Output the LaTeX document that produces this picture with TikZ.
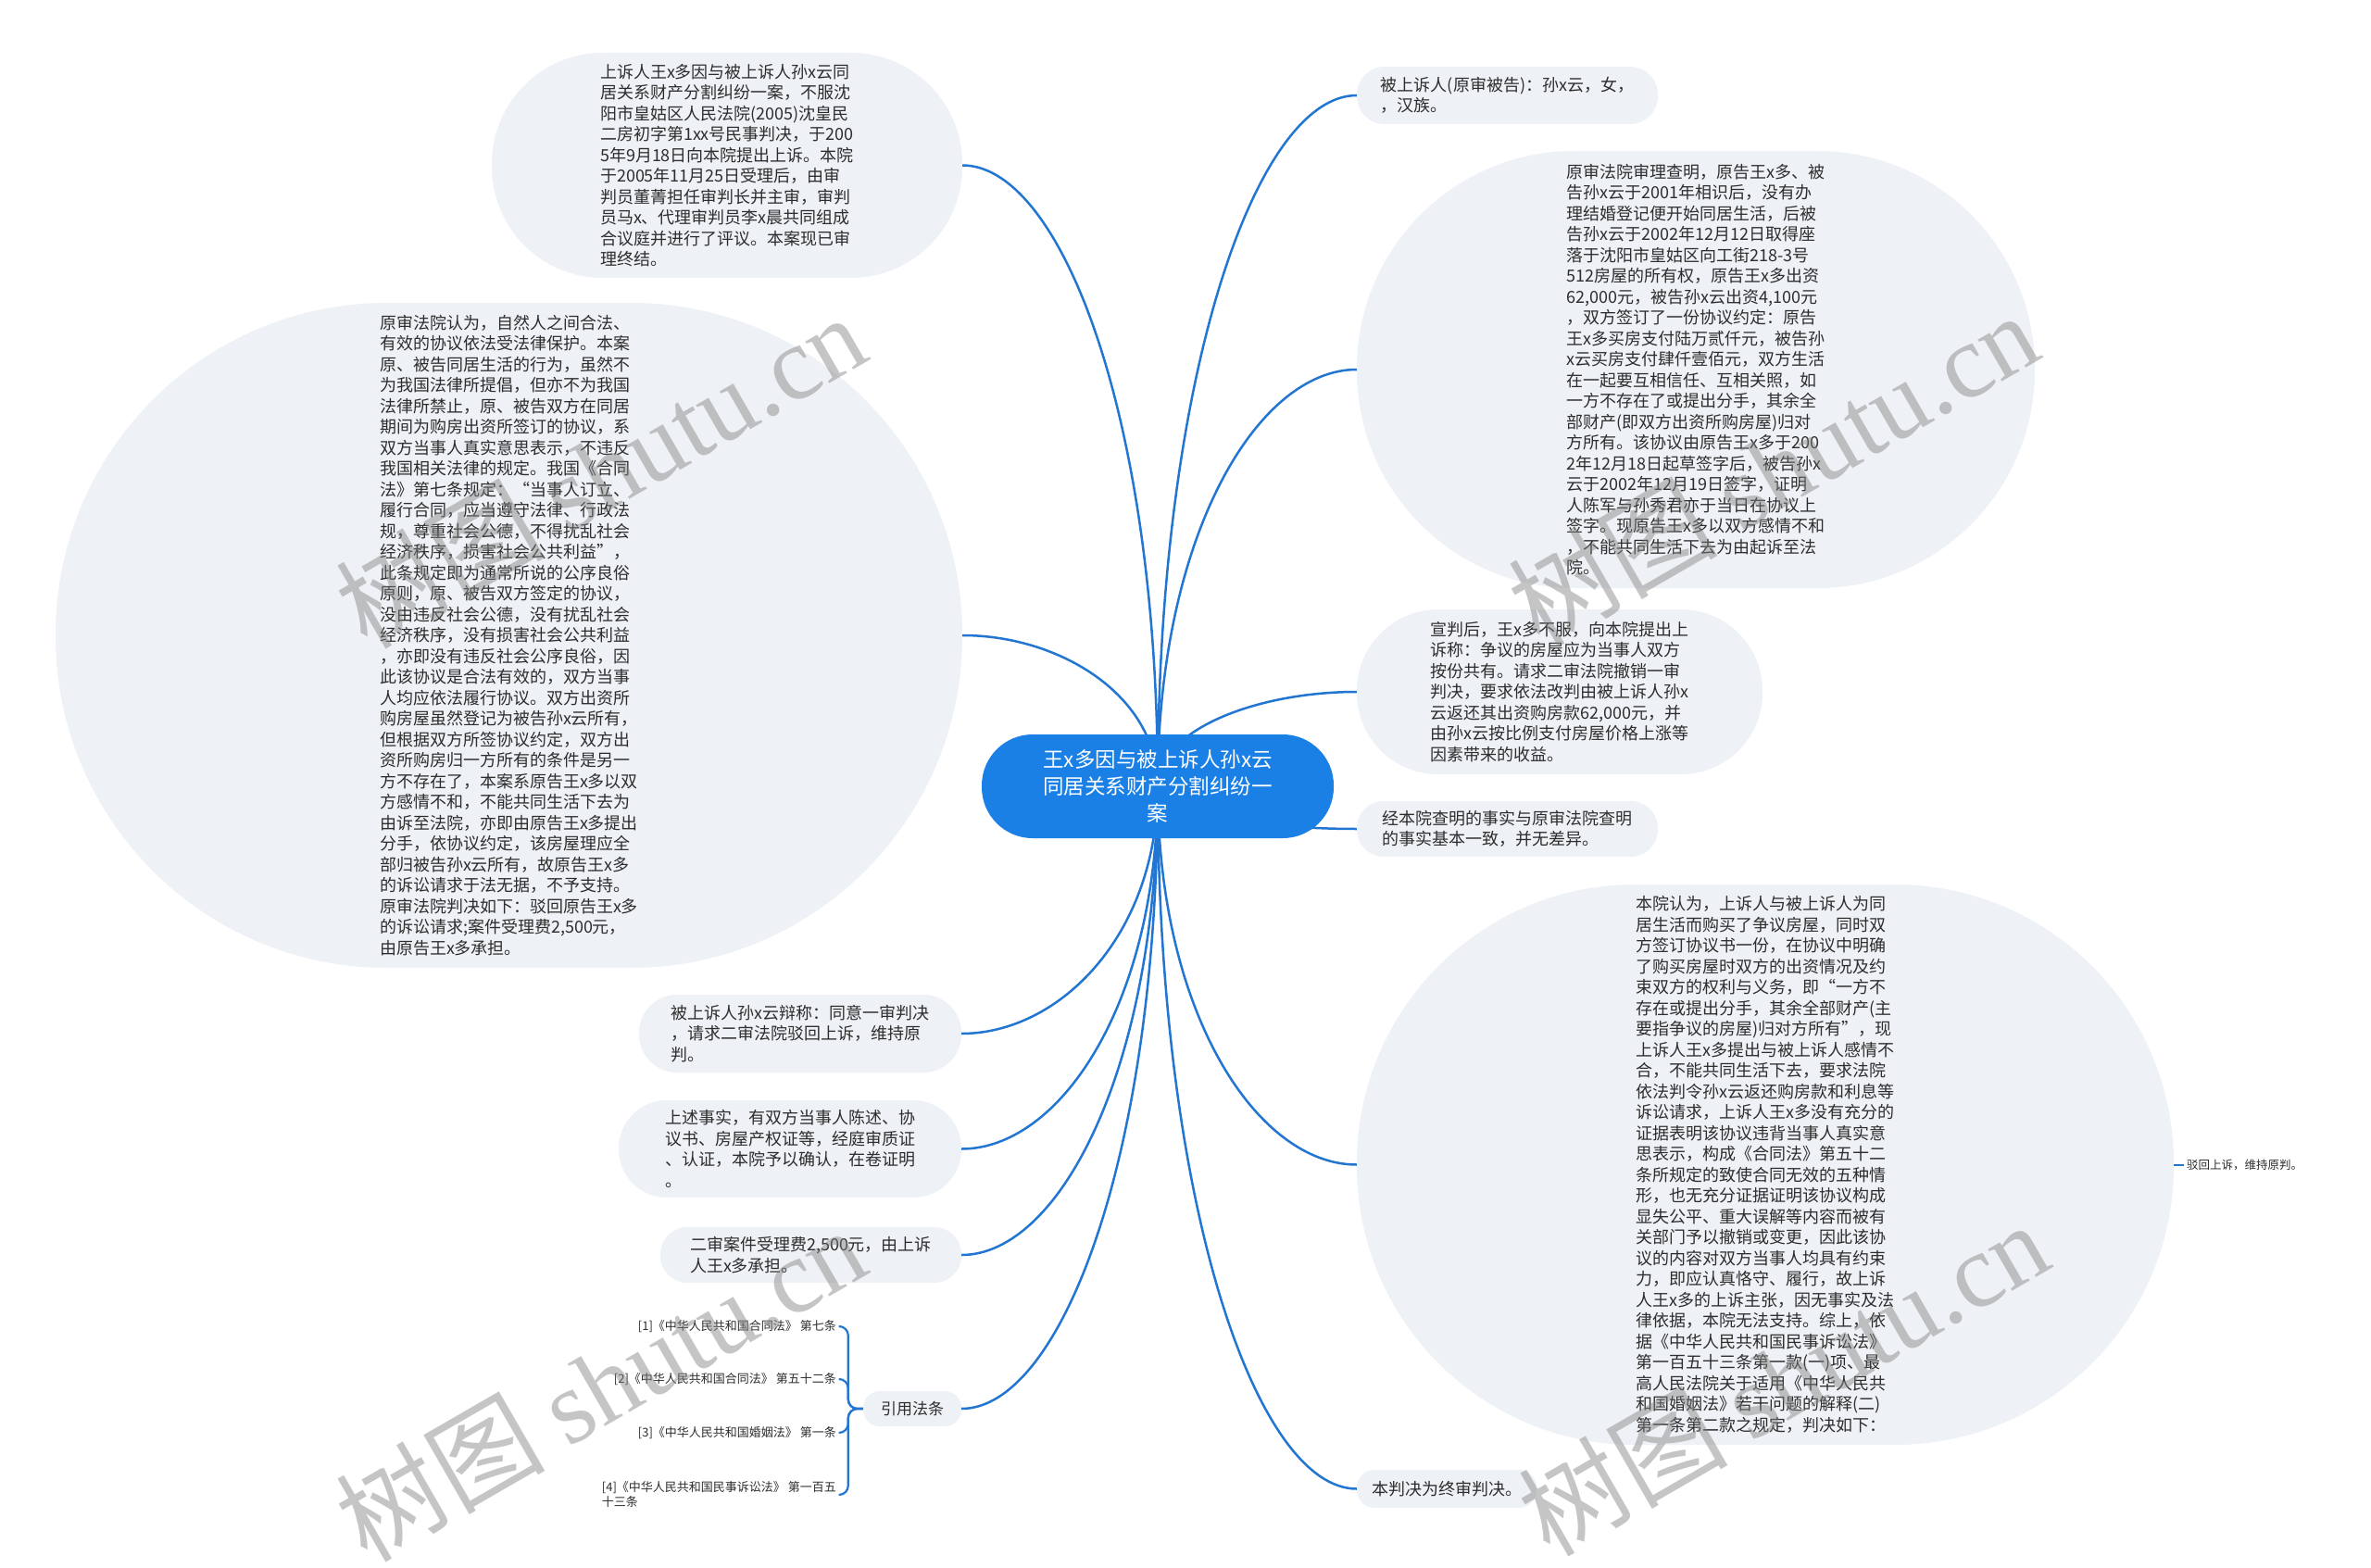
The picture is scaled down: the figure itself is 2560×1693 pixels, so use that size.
\documentclass[tikz,border=0pt]{standalone}
\usepackage{fontspec}
\setmainfont{Noto Sans CJK SC}
\newfontfamily\wmfont{Liberation Serif}
\usetikzlibrary{calc}
\definecolor{linkc}{RGB}{34,118,210}
\definecolor{rootc}{RGB}{26,128,230}
\definecolor{bubc}{RGB}{238,241,245}
\definecolor{txtc}{RGB}{45,45,45}
\tikzset{
 bub/.style={fill=bubc, text=txtc, inner sep=0pt, align=left, font=\fontsize{18}{22.5}\selectfont},
 link/.style={draw=linkc, line width=2.5pt},
 leaf/.style={text=txtc, inner sep=3pt, align=left, font=\fontsize{13}{16}\selectfont},
 wm/.style={text=black!50, opacity=0.45, rotate=30, inner sep=0pt, font=\fontsize{113}{113}\selectfont}
}
\newcommand\conn[2]{\draw[link] (#1) .. controls ($(#1)!0.6!(#1|-#2)$) and ($(#2)!0.5!(#1|-#2)$) .. (#2);}
\begin{document}
\begin{tikzpicture}[x=1pt,y=-1pt]
\useasboundingbox (0,0) rectangle (2560,1693);
\fill[white] (0,0) rectangle (2560,1693);

% left side
\node[bub, minimum width=508pt, minimum height=243pt, rounded corners=120pt] (n1) at (785,178.5) {上诉人王x多因与被上诉人孙x云同\\居关系财产分割纠纷一案，不服沈\\阳市皇姑区人民法院(2005)沈皇民\\二房初字第1xx号民事判决，于200\\5年9月18日向本院提出上诉。本院\\于2005年11月25日受理后，由审\\判员董菁担任审判长并主审，审判\\员马x、代理审判员李x晨共同组成\\合议庭并进行了评议。本案现已审\\理终结。};

\node[bub, minimum width=979pt, minimum height=718pt, rounded corners=358pt] (n2) at (549.5,686) {原审法院认为，自然人之间合法、\\有效的协议依法受法律保护。本案\\原、被告同居生活的行为，虽然不\\为我国法律所提倡，但亦不为我国\\法律所禁止，原、被告双方在同居\\期间为购房出资所签订的协议，系\\双方当事人真实意思表示，不违反\\我国相关法律的规定。我国《合同\\法》第七条规定：“当事人订立、\\履行合同，应当遵守法律、行政法\\规，尊重社会公德，不得扰乱社会\\经济秩序，损害社会公共利益”，\\此条规定即为通常所说的公序良俗\\原则，原、被告双方签定的协议，\\没由违反社会公德，没有扰乱社会\\经济秩序，没有损害社会公共利益\\，亦即没有违反社会公序良俗，因\\此该协议是合法有效的，双方当事\\人均应依法履行协议。双方出资所\\购房屋虽然登记为被告孙x云所有，\\但根据双方所签协议约定，双方出\\资所购房归一方所有的条件是另一\\方不存在了，本案系原告王x多以双\\方感情不和，不能共同生活下去为\\由诉至法院，亦即由原告王x多提出\\分手，依协议约定，该房屋理应全\\部归被告孙x云所有，故原告王x多\\的诉讼请求于法无据，不予支持。\\原审法院判决如下：驳回原告王x多\\的诉讼请求;案件受理费2,500元，\\由原告王x多承担。};

\node[bub, minimum width=348pt, minimum height=84pt, rounded corners=41pt] (n9) at (864,1116) {被上诉人孙x云辩称：同意一审判决\\，请求二审法院驳回上诉，维持原\\判。};

\node[bub, minimum width=370pt, minimum height=105pt, rounded corners=52pt] (n10) at (853,1240.5) {上述事实，有双方当事人陈述、协\\议书、房屋产权证等，经庭审质证\\、认证，本院予以确认，在卷证明\\。};

\node[bub, minimum width=325pt, minimum height=60pt, rounded corners=29pt] (n11) at (875.5,1355) {二审案件受理费2,500元，由上诉\\人王x多承担。};

\node[bub, minimum width=106pt, minimum height=38pt, rounded corners=18pt, align=center, font=\fontsize{17}{20}\selectfont] (cite) at (985,1521) {引用法条};

\node[leaf, anchor=east] (c1) at (906,1432) {[1]《中华人民共和国合同法》 第七条};
\node[leaf, anchor=east] (c2) at (906,1489) {[2]《中华人民共和国合同法》 第五十二条};
\node[leaf, anchor=east] (c3) at (906,1547) {[3]《中华人民共和国婚姻法》 第一条};
\node[leaf, anchor=east] (c4) at (906,1614) {[4]《中华人民共和国民事诉讼法》 第一百五\\十三条};

\foreach \c in {c1,c2,c3,c4}{
  \draw[link, line width=2.2pt, rounded corners=10pt] (cite.west) -- ++(-16,0) |- (\c.east);
}

% right side
\node[bub, minimum width=325pt, minimum height=62pt, rounded corners=30pt] (n3) at (1627.5,103) {被上诉人(原审被告)：孙x云，女，\\，汉族。};

\node[bub, minimum width=732pt, minimum height=472pt, rounded corners=235pt] (n4) at (1831,399) {原审法院审理查明，原告王x多、被\\告孙x云于2001年相识后，没有办\\理结婚登记便开始同居生活，后被\\告孙x云于2002年12月12日取得座\\落于沈阳市皇姑区向工街218-3号\\512房屋的所有权，原告王x多出资\\62,000元，被告孙x云出资4,100元\\，双方签订了一份协议约定：原告\\王x多买房支付陆万贰仟元，被告孙\\x云买房支付肆仟壹佰元，双方生活\\在一起要互相信任、互相关照，如\\一方不存在了或提出分手，其余全\\部财产(即双方出资所购房屋)归对\\方所有。该协议由原告王x多于200\\2年12月18日起草签字后，被告孙x\\云于2002年12月19日签字，证明\\人陈军与孙秀君亦于当日在协议上\\签字。现原告王x多以双方感情不和\\，不能共同生活下去为由起诉至法\\院。};

\node[bub, minimum width=438pt, minimum height=178pt, rounded corners=88pt] (n5) at (1684,747) {宣判后，王x多不服，向本院提出上\\诉称：争议的房屋应为当事人双方\\按份共有。请求二审法院撤销一审\\判决，要求依法改判由被上诉人孙x\\云返还其出资购房款62,000元，并\\由孙x云按比例支付房屋价格上涨等\\因素带来的收益。};

\node[bub, minimum width=325pt, minimum height=60pt, rounded corners=29pt] (n6) at (1627.5,895) {经本院查明的事实与原审法院查明\\的事实基本一致，并无差异。};

\node[bub, minimum width=882pt, minimum height=605pt, rounded corners=301pt] (n7) at (1906,1257.5) {本院认为，上诉人与被上诉人为同\\居生活而购买了争议房屋，同时双\\方签订协议书一份，在协议中明确\\了购买房屋时双方的出资情况及约\\束双方的权利与义务，即“一方不\\存在或提出分手，其余全部财产(主\\要指争议的房屋)归对方所有”，现\\上诉人王x多提出与被上诉人感情不\\合，不能共同生活下去，要求法院\\依法判令孙x云返还购房款和利息等\\诉讼请求，上诉人王x多没有充分的\\证据表明该协议违背当事人真实意\\思表示，构成《合同法》第五十二\\条所规定的致使合同无效的五种情\\形，也无充分证据证明该协议构成\\显失公平、重大误解等内容而被有\\关部门予以撤销或变更，因此该协\\议的内容对双方当事人均具有约束\\力，即应认真恪守、履行，故上诉\\人王x多的上诉主张，因无事实及法\\律依据，本院无法支持。综上，依\\据《中华人民共和国民事诉讼法》\\第一百五十三条第一款(一)项、最\\高人民法院关于适用《中华人民共\\和国婚姻法》若干问题的解释(二)\\第一条第二款之规定，判决如下：};

\node[leaf, anchor=west, font=\fontsize{12.5}{15}\selectfont] (verdict) at (2358,1257.5) {驳回上诉，维持原判。};
\draw[link, line width=2pt] (n7.east) -- (verdict.west);

\node[bub, minimum width=194pt, minimum height=41pt, rounded corners=19pt] (n8) at (1562,1607.5) {本判决为终审判决。};

% connectors from root centre
\coordinate (rc) at (1250,849);
\conn{rc}{n1.east}
\conn{rc}{n2.east}
\conn{rc}{n9.east}
\conn{rc}{n10.east}
\conn{rc}{n11.east}
\conn{rc}{cite.east}
\conn{rc}{n3.west}
\conn{rc}{n4.west}
\conn{rc}{n5.west}
\conn{rc}{n6.west}
\conn{rc}{n7.west}
\conn{rc}{n8.west}

\node[fill=rootc, text=white, inner sep=0pt, minimum width=380pt, minimum height=112pt, rounded corners=55pt, align=center, font=\fontsize{22.5}{29}\selectfont] (root) at (1250,849) {王x多因与被上诉人孙x云\\同居关系财产分割纠纷一\\案};

% watermarks
\node[wm] (w1) at (648,508) {树图 {\wmfont shutu.cn}};
\node[wm] (w2) at (648,1494) {树图 {\wmfont shutu.cn}};
\node[wm] (w3) at (1914,506) {树图 {\wmfont shutu.cn}};
\node[wm] (w4) at (1925,1488) {树图 {\wmfont shutu.cn}};
\end{tikzpicture}
\end{document}
